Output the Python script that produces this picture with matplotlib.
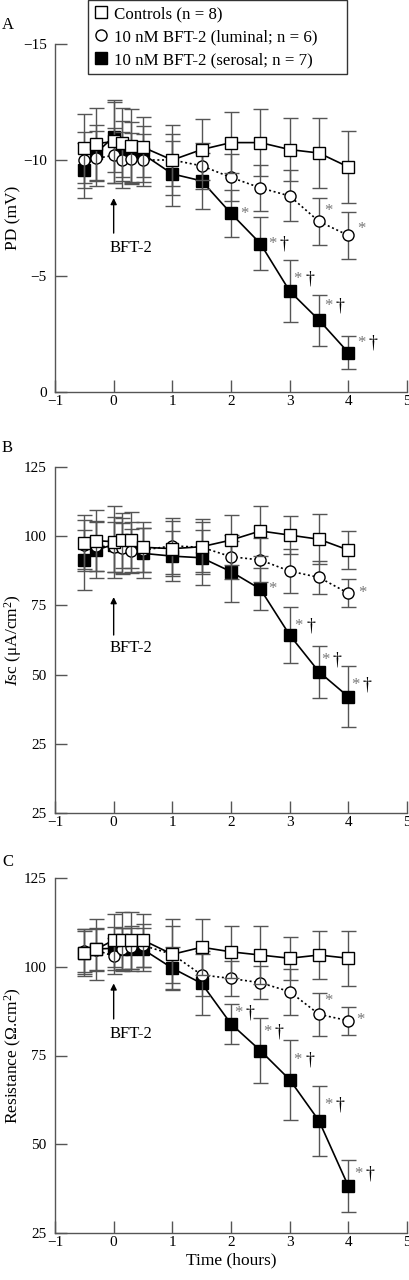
import matplotlib
matplotlib.use("Agg")
import matplotlib.pyplot as plt
from matplotlib.lines import Line2D

plt.rcParams['font.family'] = ['Liberation Serif', 'DejaVu Serif']
plt.rcParams['mathtext.fontset'] = 'custom'
plt.rcParams['mathtext.rm'] = 'Liberation Serif'
plt.rcParams['mathtext.it'] = 'Liberation Serif:italic'

# ---------------- data ----------------
time_h = [-0.5, -0.3, 0, 0.15, 0.3, 0.5, 1, 1.5, 2, 2.5, 3, 3.5, 4]

labels = ["Controls (n = 8)",
          "10 nM BFT-2 (luminal; n = 6)",
          "10 nM BFT-2 (serosal; n = 7)"]

# Panel A: PD (mV)
pd_ctrl = [-10.5, -10.7, -10.8, -10.75, -10.6, -10.55, -10.0, -10.45, -10.75, -10.75, -10.45, -10.3, -9.7]
pd_ctrl_err = [1.5, 1.55, 1.8, 1.5, 1.6, 1.3, 1.5, 1.3, 1.3, 1.45, 1.35, 1.5, 1.55]
pd_lum = [-10.0, -10.07, -10.2, -10.0, -10.05, -10.0, -10.0, -9.75, -9.25, -8.8, -8.45, -7.35, -6.75]
pd_lum_err = [1.2, 1.2, 1.2, 1.2, 1.1, 1.1, 1.1, 1.0, 1.0, 1.0, 1.1, 1.0, 1.0]
pd_ser = [-9.55, -10.3, -11.0, -10.4, -10.35, -10.25, -9.4, -9.1, -7.7, -6.4, -4.35, -3.1, -1.7]
pd_ser_err = [1.2, 1.2, 1.5, 1.3, 1.3, 1.2, 1.4, 1.2, 1.0, 1.15, 1.35, 1.1, 0.7]

# Panel B: Isc (uA/cm2)
isc_ctrl = [97.6, 98.4, 98.0, 98.5, 98.6, 96.0, 95.5, 96.2, 98.6, 101.9, 100.4, 98.9, 95.0]
isc_ctrl_err = [10, 11, 13, 10, 10, 9, 10, 10, 9, 9, 7, 9, 7]
isc_lum = [97.0, 96.5, 96.0, 95.6, 94.6, 95.0, 96.5, 96.0, 92.6, 91.4, 87.4, 85.1, 79.4]
isc_lum_err = [9, 9, 9, 9, 8, 8, 10, 9, 8, 8, 8, 6, 5]
isc_ser = [91.4, 95.0, 97.0, 96.5, 96.2, 93.8, 92.8, 92.2, 87.2, 80.9, 64.3, 51.0, 42.0]
isc_ser_err = [11, 10, 10, 10, 9, 9, 9, 10, 11, 7.5, 10, 9.5, 11]

# Panel C: Resistance (Ohm.cm2)
res_ctrl = [104.0, 104.9, 107.5, 107.5, 107.5, 107.5, 103.5, 105.5, 104.2, 103.3, 102.4, 103.3, 102.4]
res_ctrl_err = [6.7, 8.6, 7.5, 8, 8, 7.5, 10, 7.9, 7.3, 8.2, 6.1, 6.8, 7.8]
res_lum = [104.5, 104.7, 103.0, 105.0, 105.5, 106.0, 103.5, 97.7, 96.7, 95.5, 93.0, 86.6, 84.8]
res_lum_err = [6, 6, 5, 6, 6, 6, 8, 6, 5, 4.7, 6.5, 6, 4]
res_ser = [104.0, 105.0, 105.2, 104.9, 104.9, 104.9, 99.6, 95.3, 83.9, 76.4, 68.2, 56.6, 38.2]
res_ser_err = [6, 6, 6, 6, 6, 6, 6, 9, 5.7, 9.1, 11.3, 9.9, 7.3]

x_ticks = [-1, 0, 1, 2, 3, 4, 5]
pd_ticks = [0, -5, -10, -15]
pd_ticklabels = ["0", "\u22125", "\u221210", "\u221215"]
isc_ticks = [0, 25, 50, 75, 100, 125]
isc_ticklabels = ["25", "25", "50", "75", "100", "125"]
res_ticks = [25, 50, 75, 100, 125]
res_ticklabels = ["25", "50", "75", "100", "125"]

# significance marks: (series, time index, text)
pd_marks = [('ser', 8, '*'), ('ser', 9, '*†'), ('ser', 10, '*†'), ('ser', 11, '*†'),
            ('ser', 12, '*†'), ('lum', 11, '*'), ('lum', 12, '*')]
isc_marks = [('ser', 9, '*'), ('ser', 10, '*†'), ('ser', 11, '*†'), ('ser', 12, '*†'),
             ('lum', 12, '*')]
res_marks = [('ser', 8, '*†'), ('ser', 9, '*†'), ('ser', 10, '*†'), ('ser', 11, '*†'),
             ('ser', 12, '*†'), ('lum', 11, '*'), ('lum', 12, '*')]

# ---------------- figure ----------------
W, H = 409, 1280
fig = plt.figure(figsize=(W / 100, H / 100), dpi=100)

def fx(px):
    return px / W

def fy(py):
    return 1 - py / H

axA = fig.add_axes([fx(55), fy(392), fx(407 - 55), (392 - 44) / H])
axB = fig.add_axes([fx(55), fy(813), fx(407 - 55), (813 - 467) / H])
axC = fig.add_axes([fx(55), fy(1233), fx(407 - 55), (1233 - 878) / H])

ecol = '#555555'
msz = 8

def draw(ax, ctrl, ctrl_e, lum, lum_e, ser, ser_e, marks, offsets):
    common = dict(capsize=5.4, elinewidth=1.0, capthick=1.0, ecolor=ecol)
    ax.errorbar(time_h, ser, yerr=ser_e, fmt='s-', color='black', lw=1.2,
                mfc='black', mec='black', ms=msz, zorder=2, **common)
    ax.errorbar(time_h, lum, yerr=lum_e, fmt='o', ls=(0, (1.2, 1.6)), color='black', lw=1.2,
                mfc='white', mec='black', ms=msz, zorder=3, **common)
    ax.errorbar(time_h, ctrl, yerr=ctrl_e, fmt='s-', color='black', lw=1.2,
                mfc='white', mec='black', ms=msz, zorder=4, **common)
    data = {'lum': lum, 'ser': ser}
    for (ser_name, i, txt), (dx, dy) in zip(marks, offsets):
        y = data[ser_name][i]
        ax.annotate('*', xy=(time_h[i], y), xytext=(dx, dy), textcoords='offset pixels',
                    ha='center', va='center', fontsize=12, color='#777777', zorder=6)
        if '†' in txt:
            ax.annotate('†', xy=(time_h[i], y), xytext=(dx + 12, dy), textcoords='offset pixels',
                        ha='center', va='center', fontsize=13, color='black', zorder=6)

offA = [(13, -1), (12, 0), (8, 12), (9, 14), (13, 10), (9, 10), (13, 6)]
offB = [(12, 0), (9, 9), (6, 12), (7, 12), (14, 0)]
offC = [(7, 11), (7, 19), (8, 20), (9, 16), (10, 12), (9, 13), (12, 1)]

draw(axA, pd_ctrl, pd_ctrl_err, pd_lum, pd_lum_err, pd_ser, pd_ser_err, pd_marks, offA)
draw(axB, isc_ctrl, isc_ctrl_err, isc_lum, isc_lum_err, isc_ser, isc_ser_err, isc_marks, offB)
draw(axC, res_ctrl, res_ctrl_err, res_lum, res_lum_err, res_ser, res_ser_err, res_marks, offC)

axA.set_ylim(0, -15)
axA.set_yticks(pd_ticks)
axA.set_yticklabels(pd_ticklabels)
axB.set_ylim(0, 125)
axB.set_yticks(isc_ticks)
axB.set_yticklabels(isc_ticklabels)
axC.set_ylim(25, 125)
axC.set_yticks(res_ticks)
axC.set_yticklabels(res_ticklabels)

for ax in (axA, axB, axC):
    ax.set_xlim(-1, 5)
    ax.set_xticks(x_ticks)
    ax.set_xticklabels([str(v).replace('-', '\u2212') for v in x_ticks])
    for s in ('top', 'right'):
        ax.spines[s].set_visible(False)
    for s in ('left', 'bottom'):
        ax.spines[s].set_color('#555555')
        ax.spines[s].set_linewidth(1.0)
    ax.tick_params(direction='in', length=8.5, width=1.0, color='#555555', labelsize=11)
    ax.tick_params(axis='y', pad=6)
    ax.tick_params(axis='x', pad=2.5)
    ax.patch.set_alpha(0)

ylab_x = (13 - 55) / (407 - 55)
axA.set_ylabel("PD (mV)", fontsize=12.5, va='center')
axB.set_ylabel(r"$I$sc ($\mathrm{\mu}$A/cm$^2$)", fontsize=12.5, va='center')
axC.set_ylabel(r"Resistance ($\Omega$.cm$^2$)", fontsize=12.5, va='center')
for ax in (axA, axB, axC):
    ax.yaxis.set_label_coords(ylab_x, 0.5)
axC.set_xlabel("Time (hours)", fontsize=12.5, labelpad=2)

# BFT-2 arrows
for ax, head, tail, ty in ((axA, -8.36, -6.85, -6.2), (axB, 78.0, 64.3, 59.6), (axC, 95.3, 85.3, 81.0)):
    ax.annotate('', xy=(0, head), xytext=(0, tail),
                arrowprops=dict(arrowstyle='-|>', color='black', lw=1.0, mutation_scale=9,
                                shrinkA=0, shrinkB=0))
    ax.text(-0.07, ty, "BFT-2", ha='left', va='center', fontsize=12)

# panel letters
fig.text(fx(2), fy(25), "A", fontsize=12, va='center', ha='left')
fig.text(fx(2), fy(448), "B", fontsize=12, va='center', ha='left')
fig.text(fx(2), fy(862), "C", fontsize=12, va='center', ha='left')

# legend
h1 = Line2D([], [], marker='s', ls='none', mfc='white', mec='black', ms=8)
h2 = Line2D([], [], marker='o', ls='none', mfc='white', mec='black', ms=8)
h3 = Line2D([], [], marker='s', ls='none', mfc='black', mec='black', ms=8)
leg = fig.legend([h1, h2, h3], labels, loc='upper left',
                 bbox_to_anchor=(fx(88), fy(77), fx(347 - 88), 77 / H), mode='expand',
                 fontsize=12.2, frameon=True, fancybox=False, edgecolor='black',
                 handlelength=0.8, handletextpad=0.4, borderpad=0.35, labelspacing=0.42,
                 borderaxespad=0)
leg.get_frame().set_linewidth(1.0)

fig.savefig("out.png", dpi=100)
